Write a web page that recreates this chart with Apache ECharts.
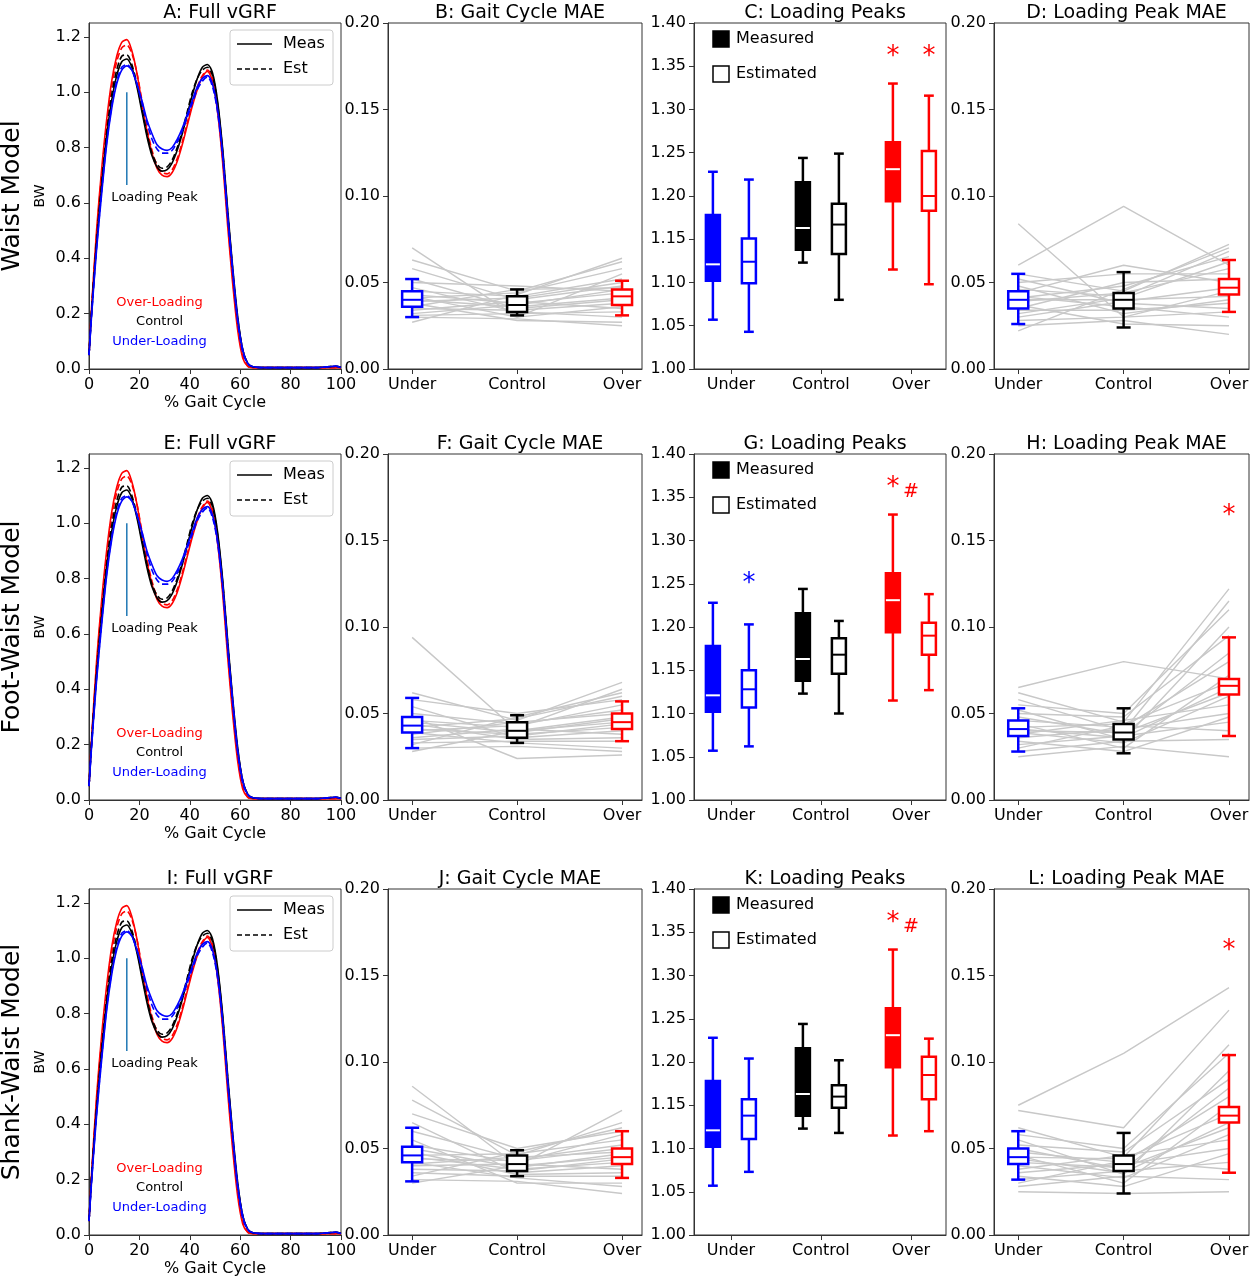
<!DOCTYPE html>
<html><head><meta charset="utf-8">
<script src="https://cdn.jsdelivr.net/npm/echarts@6/dist/echarts.min.js"></script>
<style>html,body{margin:0;padding:0;background:#fff}#c{width:1253px;height:1280px}</style>
</head><body><div id="c"></div>
<script>
// ---------- DATA ----------
const gaitX = [0,1,3,5,7,9,11,13,15,17,19,21,23,25,27,29,31,33,35,37,39,41,43,45,47,49,51,53,55,57,59,61,63,65,70,80,90,98,100];
const ctrlMeas = [0.05,0.20,0.45,0.66,0.84,0.97,1.06,1.11,1.12,1.09,1.02,0.93,0.84,0.77,0.73,0.715,0.72,0.745,0.79,0.85,0.92,0.99,1.05,1.09,1.10,1.07,0.97,0.80,0.58,0.37,0.19,0.07,0.02,0.008,0.005,0.005,0.005,0.01,0.005];
const ctrlEst  = [0.05,0.21,0.46,0.67,0.85,0.99,1.08,1.13,1.135,1.10,1.03,0.94,0.85,0.78,0.74,0.725,0.73,0.755,0.80,0.86,0.93,1.00,1.05,1.08,1.09,1.06,0.96,0.79,0.57,0.36,0.18,0.07,0.02,0.008,0.005,0.005,0.005,0.01,0.005];
const overMeas = [0.05,0.22,0.50,0.72,0.90,1.04,1.13,1.18,1.19,1.15,1.07,0.96,0.86,0.78,0.725,0.70,0.695,0.71,0.75,0.81,0.88,0.95,1.01,1.055,1.075,1.04,0.93,0.75,0.52,0.31,0.14,0.04,0.01,0.005,0.005,0.005,0.005,0.005,0.005];
const overEst  = [0.05,0.21,0.48,0.70,0.88,1.02,1.11,1.16,1.17,1.14,1.07,0.97,0.87,0.79,0.735,0.71,0.705,0.72,0.76,0.82,0.89,0.96,1.02,1.06,1.08,1.05,0.95,0.77,0.55,0.33,0.16,0.05,0.01,0.005,0.005,0.005,0.005,0.005,0.005];
const underMeas= [0.05,0.19,0.43,0.63,0.81,0.94,1.03,1.08,1.095,1.08,1.03,0.97,0.90,0.85,0.81,0.795,0.79,0.80,0.83,0.87,0.92,0.97,1.02,1.05,1.06,1.03,0.94,0.78,0.56,0.36,0.18,0.07,0.02,0.008,0.005,0.005,0.005,0.01,0.005];
const underEst = [0.05,0.19,0.44,0.64,0.82,0.95,1.04,1.09,1.10,1.08,1.03,0.96,0.89,0.83,0.795,0.78,0.78,0.79,0.82,0.86,0.91,0.96,1.01,1.04,1.055,1.02,0.93,0.77,0.55,0.35,0.17,0.06,0.02,0.008,0.005,0.005,0.005,0.01,0.005];

const groupNames = ['Under','Control','Over'];
const vgrfTicks = [0,0.2,0.4,0.6,0.8,1.0,1.2];
const gaitTicks = [0,20,40,60,80,100];
const maeTicks = [0,0.05,0.10,0.15,0.20];
const peakTicks = [1.00,1.05,1.10,1.15,1.20,1.25,1.30,1.35,1.40];

// subject MAE values [under, control, over]
const maeB_u=[0.070,0.063,0.058,0.052,0.050,0.047,0.045,0.043,0.042,0.041,0.040,0.039,0.038,0.036,0.035,0.034,0.032,0.031,0.030,0.027];
const maeB_c=[0.030,0.045,0.040,0.035,0.048,0.033,0.042,0.038,0.030,0.044,0.036,0.041,0.028,0.046,0.034,0.039,0.037,0.032,0.029,0.043];
const maeB_o=[0.055,0.062,0.048,0.040,0.045,0.030,0.052,0.044,0.036,0.058,0.041,0.050,0.027,0.047,0.038,0.035,0.046,0.033,0.025,0.064];
const maeD_u=[0.084,0.060,0.055,0.052,0.050,0.048,0.046,0.044,0.042,0.041,0.040,0.039,0.037,0.035,0.034,0.032,0.030,0.028,0.025,0.022];
const maeD_c=[0.030,0.094,0.045,0.038,0.055,0.032,0.042,0.060,0.036,0.048,0.040,0.044,0.026,0.050,0.034,0.041,0.039,0.030,0.028,0.046];
const maeD_o=[0.045,0.060,0.072,0.035,0.055,0.040,0.068,0.050,0.030,0.065,0.042,0.058,0.025,0.052,0.038,0.062,0.047,0.033,0.020,0.070];
const maeF_u=[0.094,0.062,0.058,0.054,0.050,0.048,0.046,0.045,0.044,0.042,0.041,0.040,0.039,0.038,0.036,0.035,0.033,0.032,0.030,0.028];
const maeF_c=[0.040,0.046,0.050,0.036,0.044,0.024,0.042,0.039,0.035,0.047,0.038,0.043,0.033,0.045,0.041,0.037,0.034,0.048,0.031,0.040];
const maeF_o=[0.045,0.068,0.058,0.040,0.052,0.026,0.064,0.047,0.036,0.060,0.042,0.055,0.030,0.050,0.038,0.044,0.034,0.062,0.028,0.048];
const maeH_u=[0.065,0.062,0.058,0.055,0.052,0.050,0.048,0.046,0.044,0.042,0.041,0.040,0.039,0.038,0.036,0.034,0.032,0.030,0.028,0.025];
const maeH_c=[0.080,0.045,0.040,0.050,0.035,0.048,0.038,0.042,0.030,0.044,0.036,0.039,0.033,0.046,0.041,0.028,0.037,0.043,0.034,0.031];
const maeH_o=[0.070,0.122,0.115,0.110,0.100,0.095,0.085,0.080,0.072,0.068,0.065,0.062,0.060,0.055,0.050,0.048,0.045,0.040,0.035,0.025];
const maeJ_u=[0.086,0.078,0.070,0.065,0.060,0.055,0.052,0.050,0.048,0.046,0.045,0.044,0.042,0.041,0.040,0.038,0.036,0.034,0.032,0.030];
const maeJ_c=[0.040,0.046,0.050,0.036,0.044,0.030,0.042,0.039,0.035,0.047,0.038,0.043,0.033,0.045,0.041,0.037,0.034,0.048,0.031,0.040];
const maeJ_o=[0.072,0.065,0.060,0.040,0.052,0.030,0.058,0.047,0.036,0.055,0.042,0.050,0.028,0.048,0.038,0.044,0.034,0.062,0.024,0.045];
const maeL_u=[0.075,0.072,0.062,0.058,0.055,0.052,0.050,0.048,0.046,0.045,0.044,0.042,0.040,0.038,0.036,0.034,0.032,0.030,0.028,0.025];
const maeL_c=[0.105,0.062,0.045,0.050,0.035,0.048,0.038,0.042,0.030,0.044,0.036,0.039,0.033,0.046,0.041,0.028,0.037,0.043,0.034,0.024];
const maeL_o=[0.143,0.130,0.110,0.105,0.095,0.090,0.085,0.080,0.075,0.070,0.065,0.062,0.058,0.055,0.050,0.047,0.042,0.038,0.032,0.025];

// MAE boxes: [whiskerLo, q1, median, q3, whiskerHi] per group (under, control, over)
const boxB=[[0.030,0.036,0.040,0.045,0.052],[0.031,0.033,0.037,0.042,0.046],[0.031,0.037,0.042,0.046,0.051]];
const boxD=[[0.026,0.035,0.040,0.045,0.055],[0.024,0.035,0.040,0.044,0.056],[0.033,0.043,0.047,0.052,0.063]];
const boxF=[[0.030,0.039,0.043,0.048,0.059],[0.033,0.036,0.040,0.045,0.049],[0.034,0.041,0.045,0.050,0.057]];
const boxH=[[0.028,0.037,0.041,0.046,0.053],[0.027,0.035,0.039,0.044,0.053],[0.037,0.061,0.066,0.070,0.094]];
const boxJ=[[0.031,0.042,0.046,0.051,0.062],[0.034,0.037,0.041,0.046,0.049],[0.033,0.041,0.045,0.050,0.060]];
const boxL=[[0.032,0.041,0.045,0.050,0.060],[0.024,0.037,0.041,0.046,0.059],[0.036,0.065,0.069,0.074,0.104]];

// Loading peak boxes: measured & estimated per group
const peakMeas=[[1.057,1.102,1.121,1.178,1.228],[1.123,1.138,1.163,1.216,1.244],[1.115,1.194,1.231,1.262,1.330]];
const peakEstC=[[1.043,1.099,1.124,1.151,1.219],[1.080,1.133,1.167,1.191,1.249],[1.098,1.183,1.200,1.252,1.316]];
const peakEstG=[[1.062,1.107,1.128,1.150,1.203],[1.100,1.146,1.168,1.187,1.207],[1.127,1.168,1.190,1.205,1.238]];
const peakEstK=[[1.073,1.111,1.138,1.157,1.204],[1.118,1.147,1.160,1.173,1.202],[1.120,1.157,1.185,1.206,1.227]];

// ---------- CHART ----------
const F='DejaVu Sans';
const colors=['#0000ff','#000000','#ff0000'];
const colL=[89,388,694,994], colW=[252,254,252,255];
const rowT=[23,454,889], H=346;
const titles=[['A: Full vGRF','B: Gait Cycle MAE','C: Loading Peaks','D: Loading Peak MAE'],
              ['E: Full vGRF','F: Gait Cycle MAE','G: Loading Peaks','H: Loading Peak MAE'],
              ['I: Full vGRF','J: Gait Cycle MAE','K: Loading Peaks','L: Loading Peak MAE']];
const rowNames=['Waist Model','Foot-Waist Model','Shank-Waist Model'];
const maeSubj=[[[maeB_u,maeB_c,maeB_o],[maeD_u,maeD_c,maeD_o]],[[maeF_u,maeF_c,maeF_o],[maeH_u,maeH_c,maeH_o]],[[maeJ_u,maeJ_c,maeJ_o],[maeL_u,maeL_c,maeL_o]]];
const maeBox=[[boxB,boxD],[boxF,boxH],[boxJ,boxL]];
const peakEst=[peakEstC,peakEstG,peakEstK];

const grid=[],xAxis=[],yAxis=[],series=[],title=[],graphic=[];
const lbl={fontFamily:F,fontSize:16,color:'#000'};
function axisCommon(){return {axisLine:{show:true,onZero:false,lineStyle:{color:'#333'}},axisTick:{show:true,length:5,lineStyle:{color:'#333'}},splitLine:{show:false}};}

function boxSeries(gi,items,widthPx,filled){
  return {type:'custom',xAxisIndex:gi,yAxisIndex:gi,clip:false,z:5,
    data:items,
    renderItem:function(params,api){
      const x=api.value(0),c=api.value(6);
      const col=colors[c];
      const p=[1,2,3,4,5].map(k=>api.coord([x,api.value(k)]));
      const cx=p[0][0], hw=widthPx/2, cw=widthPx*0.35;
      const st={stroke:col,lineWidth:2.5};
      return {type:'group',children:[
        {type:'line',shape:{x1:cx,y1:p[0][1],x2:cx,y2:p[1][1]},style:st},
        {type:'line',shape:{x1:cx,y1:p[3][1],x2:cx,y2:p[4][1]},style:st},
        {type:'line',shape:{x1:cx-cw,y1:p[0][1],x2:cx+cw,y2:p[0][1]},style:st},
        {type:'line',shape:{x1:cx-cw,y1:p[4][1],x2:cx+cw,y2:p[4][1]},style:st},
        {type:'rect',shape:{x:cx-hw,y:p[3][1],width:widthPx,height:p[1][1]-p[3][1]},style:{fill:filled?col:'#fff',stroke:col,lineWidth:2.5}},
        {type:'line',shape:{x1:cx-hw,y1:p[2][1],x2:cx+hw,y2:p[2][1]},style:{stroke:filled?'#fff':col,lineWidth:2}}
      ]};
    }};
}
function textSeries(gi,items){
  return {type:'scatter',xAxisIndex:gi,yAxisIndex:gi,symbolSize:0,z:6,silent:true,itemStyle:{opacity:1},
    data:items.map(it=>({value:[it[0],it[1]],label:{show:true,position:'inside',formatter:it[2],color:it[3],fontSize:it[4],fontFamily:F,opacity:1}}))};
}

for(let r=0;r<3;r++){
  for(let c=0;c<4;c++){
    const gi=r*4+c;
    grid.push({left:colL[c],top:rowT[r],width:colW[c],height:H,show:true,borderColor:'#333',borderWidth:1,backgroundColor:'transparent'});
    title.push({text:titles[r][c],left:colL[c]+colW[c]/2,top:rowT[r]-24,textAlign:'center',textStyle:{fontFamily:F,fontSize:19,fontWeight:'normal',color:'#000'}});
    if(c===0){
      xAxis.push(Object.assign(axisCommon(),{gridIndex:gi,type:'value',min:0,max:100,name:'% Gait Cycle',nameLocation:'middle',nameGap:26,nameTextStyle:lbl,
        axisLabel:Object.assign({customValues:gaitTicks,formatter:v=>String(Math.round(v))},lbl),axisTick:{customValues:gaitTicks,length:5}}));
      yAxis.push(Object.assign(axisCommon(),{gridIndex:gi,type:'value',min:0,max:1.25,name:'BW',nameLocation:'middle',nameGap:42,nameTextStyle:{fontFamily:F,fontSize:14,color:'#000'},
        axisLabel:Object.assign({customValues:vgrfTicks,formatter:v=>v.toFixed(1)},lbl),axisTick:{customValues:vgrfTicks,length:5}}));
      const curves=[[overMeas,2,'solid'],[overEst,2,'dashed'],[ctrlMeas,1,'solid'],[ctrlEst,1,'dashed'],[underMeas,0,'solid'],[underEst,0,'dashed']];
      curves.forEach(cv=>series.push({type:'line',xAxisIndex:gi,yAxisIndex:gi,smooth:0.3,symbol:'none',silent:true,
        data:gaitX.map((x,i)=>[x,cv[0][i]]),lineStyle:{color:colors[cv[1]],width:1.6,type:cv[2]}}));
      series.push({type:'line',xAxisIndex:gi,yAxisIndex:gi,symbol:'none',data:[[15,0.665],[15,1.0]],lineStyle:{color:'#1f77b4',width:1.5}});
      series.push(textSeries(gi,[[26,0.618,'Loading Peak','#000',13],[28,0.238,'Over-Loading','#ff0000',13],[28,0.17,'Control','#000',13],[28,0.099,'Under-Loading','#0000ff',13]]));
      const t=rowT[r];
      graphic.push({type:'rect',shape:{x:230,y:t+7,width:103,height:55,r:3},style:{fill:'#fff',stroke:'#ccc',lineWidth:1},z:10});
      graphic.push({type:'line',shape:{x1:237,y1:t+21,x2:272,y2:t+21},style:{stroke:'#000',lineWidth:1.6},z:11});
      graphic.push({type:'line',shape:{x1:237,y1:t+46,x2:272,y2:t+46},style:{stroke:'#000',lineWidth:1.6,lineDash:[5,3]},z:11});
      graphic.push({type:'text',x:283,y:t+21,style:{text:'Meas',fontFamily:F,fontSize:16,fill:'#000',verticalAlign:'middle'},z:11});
      graphic.push({type:'text',x:283,y:t+46,style:{text:'Est',fontFamily:F,fontSize:16,fill:'#000',verticalAlign:'middle'},z:11});
      graphic.push({type:'text',x:12,y:t+H/2,rotation:Math.PI/2,style:{text:rowNames[r],fontFamily:F,fontSize:25,fill:'#000',align:'center',verticalAlign:'middle'}});
    } else {
      const isPeak=(c===2);
      const xmin=isPeak?-0.41:-0.23, xmax=isPeak?2.39:2.19;
      xAxis.push(Object.assign(axisCommon(),{gridIndex:gi,type:'value',min:xmin,max:xmax,
        axisLabel:Object.assign({customValues:[0,1,2],formatter:v=>groupNames[Math.round(v)]},lbl),axisTick:{customValues:[0,1,2],length:5}}));
      const yt=isPeak?peakTicks:maeTicks;
      yAxis.push(Object.assign(axisCommon(),{gridIndex:gi,type:'value',min:isPeak?1.0:0,max:isPeak?1.4:0.2,
        axisLabel:Object.assign({customValues:yt,formatter:v=>v.toFixed(2)},lbl),axisTick:{customValues:yt,length:5}}));
      if(isPeak){
        const items=[];
        for(let g=0;g<3;g++){items.push([g-0.2].concat(peakMeas[g],[g]));}
        series.push(boxSeries(gi,items,14,true));
        const items2=[];
        for(let g=0;g<3;g++){items2.push([g+0.2].concat(peakEst[r][g],[g]));}
        series.push(boxSeries(gi,items2,14,false));
        const t=rowT[r];
        graphic.push({type:'rect',shape:{x:713,y:t+8,width:16,height:16},style:{fill:'#000',stroke:'#000',lineWidth:1.5}});
        graphic.push({type:'rect',shape:{x:713,y:t+43,width:16,height:16},style:{fill:'#fff',stroke:'#000',lineWidth:1.5}});
        graphic.push({type:'text',x:736,y:t+16,style:{text:'Measured',fontFamily:F,fontSize:16,fill:'#000',verticalAlign:'middle'}});
        graphic.push({type:'text',x:736,y:t+51,style:{text:'Estimated',fontFamily:F,fontSize:16,fill:'#000',verticalAlign:'middle'}});
        let ann;
        if(r===0) ann=[[1.8,1.36,'*','#ff0000',26],[2.2,1.36,'*','#ff0000',26]];
        else if(r===1) ann=[[0.2,1.25,'*','#0000ff',26],[1.8,1.36,'*','#ff0000',26],[2.0,1.356,'#','#ff0000',19]];
        else ann=[[1.8,1.36,'*','#ff0000',26],[2.0,1.356,'#','#ff0000',19]];
        series.push(textSeries(gi,ann));
      } else {
        const k=c===1?0:1;
        const subj=maeSubj[r][k];
        for(let s=0;s<subj[0].length;s++){
          series.push({type:'line',xAxisIndex:gi,yAxisIndex:gi,symbol:'none',silent:true,z:2,
            data:[[0,subj[0][s]],[1,subj[1][s]],[2,subj[2][s]]],lineStyle:{color:'#c8c8c8',width:1.4}});
        }
        const items=[];
        for(let g=0;g<3;g++){items.push([g].concat(maeBox[r][k][g],[g]));}
        series.push(boxSeries(gi,items,20,false));
        if(c===3&&r>0) series.push(textSeries(gi,[[2,0.164,'*','#ff0000',26]]));
      }
    }
  }
}
const chart=echarts.init(document.getElementById('c'),null,{renderer:'canvas'});
chart.setOption({animation:false,backgroundColor:'#fff',title,grid,xAxis,yAxis,series,graphic});
</script></body></html>
